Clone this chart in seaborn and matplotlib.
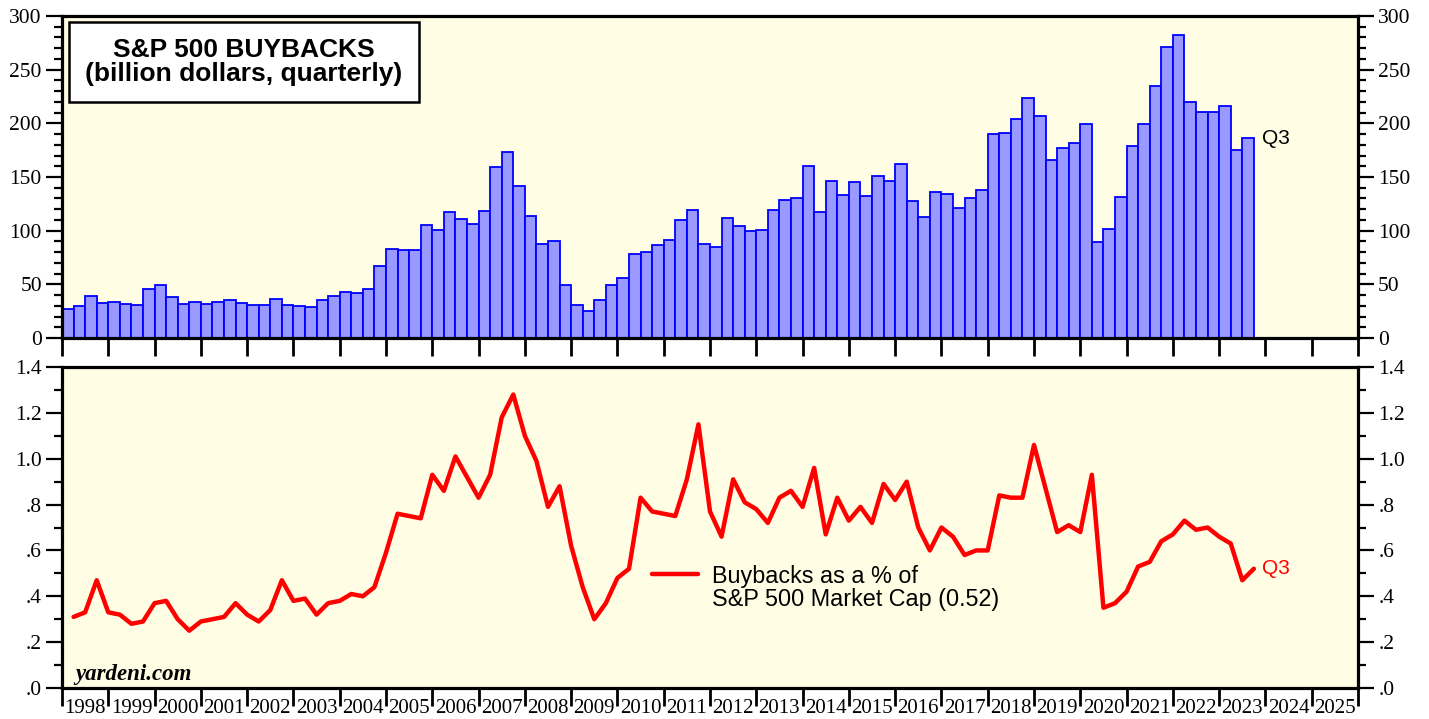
import numpy as np
import pandas as pd
import matplotlib
matplotlib.use("Agg")
import matplotlib.pyplot as plt
import seaborn as sns
from matplotlib.ticker import MultipleLocator, FixedLocator, NullFormatter, FuncFormatter
from matplotlib.patches import Rectangle

# ---------------- data ----------------
start_year = 1998
year_ticks = list(range(1998, 2027))
year_labels = list(range(1998, 2026))

# S&P 500 buybacks, billion dollars, quarterly 1998Q1 .. 2023Q3
buybacks = [
    27, 30, 39, 33, 34, 32, 31, 46,          # 1998-1999
    49, 38, 32, 34, 32, 34, 35, 33,          # 2000-2001
    31, 31, 36, 31, 30, 29, 35, 39,          # 2002-2003
    43, 42, 46, 67, 83, 82, 82, 105,         # 2004-2005
    101, 117, 111, 106, 118, 159, 173, 142,  # 2006-2007
    114, 88, 90, 49, 31, 25, 35, 49,         # 2008-2009
    56, 78, 80, 87, 91, 110, 119, 88,        # 2010-2011
    85, 112, 104, 100, 101, 119, 129, 130,   # 2012-2013
    160, 117, 146, 133, 145, 132, 151, 146,  # 2014-2015
    162, 128, 113, 136, 134, 121, 130, 138,  # 2016-2017
    190, 191, 204, 224, 207, 166, 177, 182,  # 2018-2019
    199, 89, 102, 131, 179, 199, 235, 271,   # 2020-2021
    282, 220, 211, 211, 216, 175, 186,       # 2022-2023Q3
]

# Buybacks as a % of S&P 500 market cap
pct_mktcap = [
    0.31, 0.33, 0.47, 0.33, 0.32, 0.28, 0.29, 0.37,
    0.38, 0.30, 0.25, 0.29, 0.30, 0.31, 0.37, 0.32,
    0.29, 0.34, 0.47, 0.38, 0.39, 0.32, 0.37, 0.38,
    0.41, 0.40, 0.44, 0.59, 0.76, 0.75, 0.74, 0.93,
    0.86, 1.01, 0.92, 0.83, 0.93, 1.18, 1.28, 1.10,
    0.99, 0.79, 0.88, 0.62, 0.44, 0.30, 0.37, 0.48,
    0.52, 0.83, 0.77, 0.76, 0.75, 0.91, 1.15, 0.77,
    0.66, 0.91, 0.81, 0.78, 0.72, 0.83, 0.86, 0.79,
    0.96, 0.67, 0.83, 0.73, 0.79, 0.72, 0.89, 0.82,
    0.90, 0.70, 0.60, 0.70, 0.66, 0.58, 0.60, 0.60,
    0.84, 0.83, 0.83, 1.06, 0.87, 0.68, 0.71, 0.68,
    0.93, 0.35, 0.37, 0.42, 0.53, 0.55, 0.64, 0.67,
    0.73, 0.69, 0.70, 0.66, 0.63, 0.47, 0.52,
]

title_lines = ["S&P 500 BUYBACKS", "(billion dollars, quarterly)"]
legend_label = "Buybacks as a % of\nS&P 500 Market Cap (0.52)"
last_quarter = "Q3"

q_start = start_year + 0.25 * np.arange(len(buybacks))
df_bar = pd.DataFrame({"t": q_start + 0.125, "v": buybacks})
df_line = pd.DataFrame({"t": q_start + 0.25, "v": pct_mktcap})

# ---------------- style ----------------
sns.set_style("ticks")
plt.rcParams["font.family"] = ["Liberation Sans", "DejaVu Sans"]
for k in ("text.color", "axes.labelcolor", "xtick.color", "ytick.color", "axes.edgecolor"):
    plt.rcParams[k] = "black"

BG = "#fffee4"
SERIF = "Liberation Serif"

W, H = 1429, 719
fig = plt.figure(figsize=(W / 100, H / 100), dpi=100)
fig.patch.set_facecolor("white")

def frac_box(l, t, r, b):
    return [l / W, 1 - b / H, (r - l) / W, (b - t) / H]

ax1 = fig.add_axes(frac_box(62, 16, 1358, 338))
ax2 = fig.add_axes(frac_box(62, 367, 1358, 688))

# ---------------- top: bars ----------------
sns.barplot(data=df_bar, x="t", y="v", native_scale=True, width=1.0,
            color="#9999ff", edgecolor="#0000ff", linewidth=1.3,
            saturation=1, errorbar=None, ax=ax1)
ax1.set_ylim(0, 300)
ax1.yaxis.set_major_locator(MultipleLocator(50))
ax1.yaxis.set_minor_locator(MultipleLocator(10))
ax1.yaxis.set_major_formatter(FuncFormatter(lambda v, p: f"{int(round(v))}"))

ax1.annotate(last_quarter, xy=(df_bar["t"].iloc[-1] + 0.125, buybacks[-1]),
             xytext=(6, 0), textcoords="offset points", va="center", ha="left",
             fontsize=15, color="black")

# title box
ax1.add_patch(Rectangle(((69 - 62) / 1296, 1 - (102 - 16) / 322), 350 / 1296, 80 / 322,
                        transform=ax1.transAxes, facecolor="white",
                        edgecolor="black", linewidth=1.8, zorder=5))
ax1.text((244 - 62) / 1296, 1 - (62 - 16) / 322, "\n".join(title_lines),
         transform=ax1.transAxes, ha="center", va="center", fontsize=19,
         fontweight="bold", linespacing=1.05, color="black", zorder=6)

# ---------------- bottom: line ----------------
sns.lineplot(data=df_line, x="t", y="v", color="#ff0000", linewidth=3.2,
             label=legend_label, ax=ax2)
ax2.set_ylim(0, 1.4)
ax2.yaxis.set_major_locator(MultipleLocator(0.2))
ax2.yaxis.set_minor_locator(MultipleLocator(0.1))

def pct_fmt(v, p):
    s = f"{v:.1f}"
    if s.startswith("0"):
        s = s[1:]
    return s
ax2.yaxis.set_major_formatter(FuncFormatter(pct_fmt))

ax2.annotate(last_quarter, xy=(df_line["t"].iloc[-1], pct_mktcap[-1]),
             xytext=(6, 0), textcoords="offset points", va="center", ha="left",
             fontsize=15, color="#ff0000")

leg = ax2.legend(loc="center left", bbox_to_anchor=((652 - 62) / 1296, 1 - (591 - 367) / 321),
                 frameon=False, fontsize=16.8, handlelength=1.95, handletextpad=0.6,
                 handleheight=4.8, borderaxespad=0, borderpad=0, labelcolor="black")
for t in leg.get_texts():
    t.set_linespacing(1.0)

ax2.text(0.01, (688 - 680) / 321, "yardeni.com", transform=ax2.transAxes,
         fontsize=16.5, family=SERIF, fontweight="bold", style="italic",
         ha="left", va="baseline", color="black")

# ---------------- common axes styling ----------------
for ax in (ax1, ax2):
    ax.set_facecolor(BG)
    ax.set_xlim(year_ticks[0], year_ticks[-1])
    ax.set_xlabel("")
    ax.set_ylabel("")
    for s in ax.spines.values():
        s.set_visible(True)
        s.set_linewidth(2.3)
        s.set_color("black")
    ax.xaxis.set_major_locator(FixedLocator(year_ticks))
    ax.xaxis.set_major_formatter(NullFormatter())
    ax.tick_params(axis="x", which="major", direction="out", length=13,
                   width=2.0, color="black", bottom=True, top=False)
    ax.tick_params(axis="y", which="major", direction="out", length=11.5,
                   width=1.6, color="black", left=True, right=True, labelleft=True,
                   labelright=True, pad=3, labelsize=15.5, labelcolor="black")
    ax.tick_params(axis="y", which="minor", direction="out", length=6,
                   width=1.6, color="black", left=True, right=True)
    for lab in ax.get_yticklabels():
        lab.set_family(SERIF)

ax2.xaxis.set_minor_locator(FixedLocator([y + 0.5 for y in year_labels]))
ax2.xaxis.set_minor_formatter(FuncFormatter(lambda v, p: f"{int(v)}"))
ax2.tick_params(axis="x", which="minor", length=0, pad=8, labelsize=15,
                labelcolor="black")
for lab in ax2.xaxis.get_minorticklabels():
    lab.set_family(SERIF)
ax1.xaxis.set_minor_locator(FixedLocator([]))

fig.savefig("out.png", dpi=100, facecolor="white")
